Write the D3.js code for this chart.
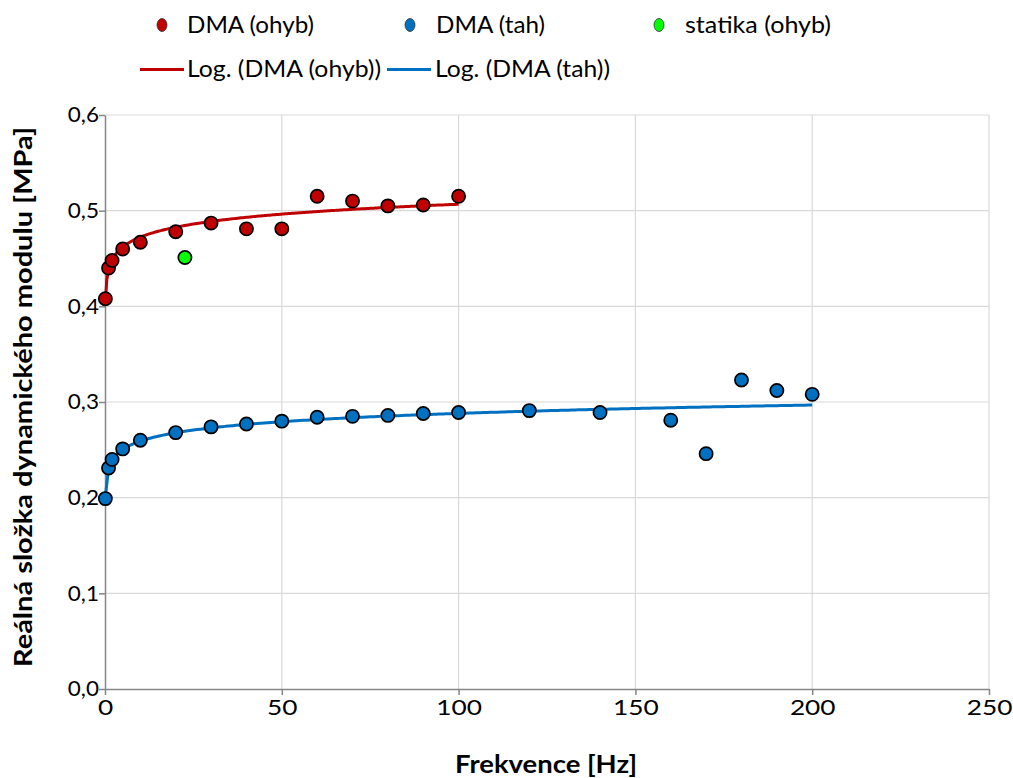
<!DOCTYPE html>
<html lang="cs">
<head>
<meta charset="UTF-8">
<script src="https://d3js.org/d3.v7.min.js"></script>
<style>
  body { margin: 0; background: #fff; }
  text { font-family: Lato, "Open Sans", sans-serif; fill: #000; }
</style>
</head>
<body>
<div id="chart"></div>
<script>
// data
const freqOhyb = [0.1, 1, 2, 5, 10, 20, 30, 40, 50, 60, 70, 80, 90, 100];
const modOhyb  = [0.408, 0.440, 0.448, 0.460, 0.467, 0.478, 0.487, 0.481, 0.481, 0.515, 0.510, 0.505, 0.506, 0.515];

const freqTah = [0.1, 1, 2, 5, 10, 20, 30, 40, 50, 60, 70, 80, 90, 100, 120, 140, 160, 170, 180, 190, 200];
const modTah  = [0.199, 0.231, 0.240, 0.251, 0.260, 0.268, 0.274, 0.277, 0.280, 0.284, 0.285, 0.286, 0.288, 0.289,
                 0.291, 0.289, 0.281, 0.246, 0.323, 0.312, 0.308];

const freqStatika = [22.6];
const modStatika  = [0.451];

const xTicks = [0, 50, 100, 150, 200, 250];
const yTicks = [0, 0.1, 0.2, 0.3, 0.4, 0.5, 0.6];

const colRed = "#c00000", colBlue = "#0070c0", colGreen = "#00ff00";

const margin = {top: 115, right: 24, bottom: 89, left: 105},
    W = 1013, H = 778,
    width = W - margin.left - margin.right,
    height = H - margin.top - margin.bottom;

const svg = d3.select("#chart").append("svg")
    .attr("width", W).attr("height", H);

const g = svg.append("g")
    .attr("transform", `translate(${margin.left},${margin.top})`);

const x = d3.scaleLinear().domain([0, 250]).range([0, 884]);
const y = d3.scaleLinear().domain([0, 0.6]).range([height, 0]);

// grid
g.append("g").selectAll("line").data(xTicks.slice(1)).join("line")
    .attr("x1", d => x(d)).attr("x2", d => x(d))
    .attr("y1", 0).attr("y2", height)
    .attr("stroke", "#d9d9d9").attr("stroke-width", 1.2);
g.append("g").selectAll("line").data(yTicks.slice(1)).join("line")
    .attr("x1", 0).attr("x2", x(250))
    .attr("y1", d => y(d)).attr("y2", d => y(d))
    .attr("stroke", "#d9d9d9").attr("stroke-width", 1.2);

// axes
const fmt = d3.format(".1f");
const yAxis = g.append("g")
    .call(d3.axisLeft(y).tickValues(yTicks).tickSize(6).tickSizeOuter(0)
      .tickFormat(d => fmt(d).replace(".", ",")));
const xAxis = g.append("g")
    .attr("transform", `translate(0,${height})`)
    .call(d3.axisBottom(x).tickValues(xTicks).tickSize(6).tickSizeOuter(0));

[xAxis, yAxis].forEach(a => {
  a.select(".domain").attr("stroke", "#868686").attr("stroke-width", 1.5);
  a.selectAll(".tick line").attr("stroke", "#868686").attr("stroke-width", 1.5);
  a.selectAll(".tick text").style("font-size", "21px").attr("fill", "#000");
});
yAxis.selectAll(".tick text").attr("x", -6);
xAxis.selectAll(".tick text").attr("y", 26).attr("dy", 0);

// the original glyphs are a bit wider than Lato
function widen(sel, k) {
  sel.each(function() {
    const len = this.getComputedTextLength();
    d3.select(this).attr("textLength", len * k).attr("lengthAdjust", "spacingAndGlyphs");
  });
}
widen(xAxis.selectAll(".tick text"), 1.25);
widen(yAxis.selectAll(".tick text"), 1.07);

// axis titles
svg.append("text")
    .attr("x", 546).attr("y", 773)
    .attr("text-anchor", "middle")
    .attr("textLength", 182).attr("lengthAdjust", "spacingAndGlyphs")
    .style("font-size", "24px").style("font-weight", "bold")
    .text("Frekvence [Hz]");
svg.append("text")
    .attr("transform", "translate(32,397) rotate(-90)")
    .attr("text-anchor", "middle")
    .attr("textLength", 540).attr("lengthAdjust", "spacingAndGlyphs")
    .style("font-size", "24px").style("font-weight", "bold")
    .text("Reálná složka dynamického modulu [MPa]");

// logarithmic trendlines (least squares y = a ln x + b)
function logFit(xs, ys) {
  const lx = xs.map(Math.log);
  const mx = d3.mean(lx), my = d3.mean(ys);
  const a = d3.sum(lx, (v, i) => (v - mx) * (ys[i] - my)) / d3.sum(lx, v => (v - mx) ** 2);
  return {a: a, b: my - a * mx};
}
function trendPath(xs, ys) {
  const f = logFit(xs, ys);
  const lo = d3.min(xs), hi = d3.max(xs);
  const s = d3.scaleLog().domain([lo, hi]);
  const pts = s.ticks(200).concat([lo, hi]).filter(v => v >= lo && v <= hi);
  const extra = d3.range(1, 101).map(i => lo + (hi - lo) * i / 100);
  const all = Array.from(new Set(pts.concat(extra))).sort((p, q) => p - q);
  return d3.line().x(v => x(v)).y(v => y(f.a * Math.log(v) + f.b))(all);
}
g.append("path").attr("d", trendPath(freqOhyb, modOhyb))
    .attr("fill", "none").attr("stroke", colRed).attr("stroke-width", 3);
g.append("path").attr("d", trendPath(freqTah, modTah))
    .attr("fill", "none").attr("stroke", colBlue).attr("stroke-width", 3);

// points
function dots(xs, ys, col) {
  g.append("g").selectAll("circle").data(xs).join("circle")
      .attr("cx", d => x(d)).attr("cy", (d, i) => y(ys[i]))
      .attr("r", 6.6)
      .attr("fill", col).attr("stroke", "#000").attr("stroke-width", 1.7);
}
dots(freqOhyb, modOhyb, colRed);
dots(freqTah, modTah, colBlue);
dots(freqStatika, modStatika, colGreen);

// legend
const leg = svg.append("g");
const row1 = [
  {label: "DMA (ohyb)", col: colRed, mx: 162, tx: 187, w: 127},
  {label: "DMA (tah)", col: colBlue, mx: 410, tx: 436, w: 109},
  {label: "statika (ohyb)", col: colGreen, mx: 659, tx: 685, w: 146}
];
row1.forEach(d => {
  leg.append("ellipse").attr("cx", d.mx).attr("cy", 25).attr("rx", 5).attr("ry", 6.5)
      .attr("fill", d.col).attr("stroke", "#333").attr("stroke-width", 0.8);
  leg.append("text").attr("x", d.tx).attr("y", 33)
      .attr("textLength", d.w).attr("lengthAdjust", "spacingAndGlyphs")
      .style("font-size", "24px").text(d.label);
});
const row2 = [
  {label: "Log. (DMA (ohyb))", col: colRed, lx: 140, tx: 187, w: 194},
  {label: "Log. (DMA (tah))", col: colBlue, lx: 387, tx: 435, w: 175}
];
row2.forEach(d => {
  leg.append("line").attr("x1", d.lx).attr("x2", d.lx + 44).attr("y1", 69.5).attr("y2", 69.5)
      .attr("stroke", d.col).attr("stroke-width", 3);
  leg.append("text").attr("x", d.tx).attr("y", 77)
      .attr("textLength", d.w).attr("lengthAdjust", "spacingAndGlyphs")
      .style("font-size", "24px").text(d.label);
});
</script>
</body>
</html>
